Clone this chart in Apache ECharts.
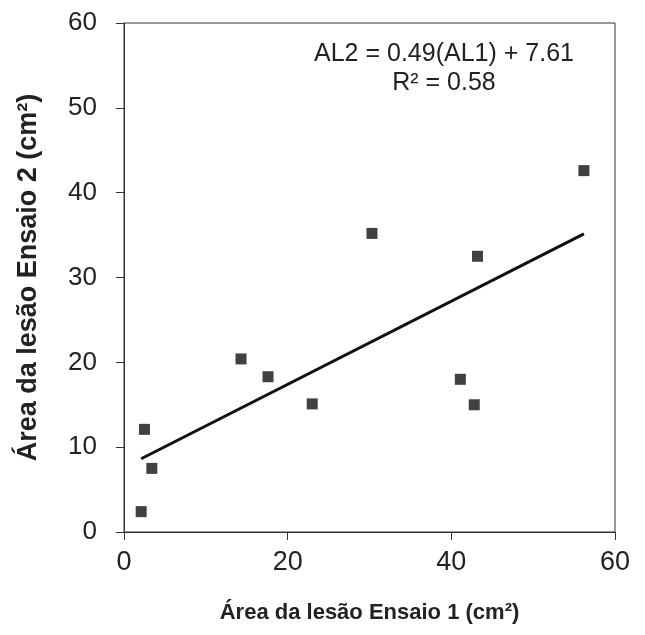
<!DOCTYPE html>
<html>
<head>
<meta charset="utf-8">
<script src="https://cdn.jsdelivr.net/npm/echarts@6/dist/echarts.min.js"></script>
<style>
  html, body { margin: 0; padding: 0; background: #fff; }
  #chart { width: 645px; height: 635px; }
</style>
</head>
<body>
<div id="chart"></div>
<script>
// lesion area, trial 1 (x) vs trial 2 (y)
var areaEnsaio1 = [2.1, 2.5, 3.4, 14.3, 17.6, 23.0, 30.3, 41.1, 42.8, 43.2, 56.2];
var areaEnsaio2 = [2.4, 12.1, 7.5, 20.4, 18.3, 15.1, 35.2, 18.0, 15.0, 32.5, 42.6];
var slope = 0.49;
var intercept = 7.61;
var r2 = 0.58;

var points = areaEnsaio1.map(function (x, i) { return [x, areaEnsaio2[i]]; });
var xMin = Math.min.apply(null, areaEnsaio1);
var xMax = Math.max.apply(null, areaEnsaio1);
var trend = [[xMin, slope * xMin + intercept], [xMax, slope * xMax + intercept]];

var chart = echarts.init(document.getElementById('chart'), null, {renderer: 'canvas'});
var font = 'Liberation Sans, Arial, sans-serif';
var option = {
    animation: false,
    backgroundColor: '#fff',
    grid: {left: 124, right: 30, top: 23, bottom: 103, show: true,
        borderColor: '#333', borderWidth: 1},
    xAxis: {
        type: 'value', min: 0, max: 60, interval: 20,
        name: 'Área da lesão Ensaio 1 (cm²)',
        nameLocation: 'middle', nameGap: 70,
        nameTextStyle: {fontFamily: font, fontSize: 22, fontWeight: 'bold', color: '#222'},
        axisLine: {lineStyle: {color: '#333', width: 1}},
        axisTick: {show: true, length: 8, lineStyle: {color: '#333'}},
        axisLabel: {fontFamily: font, fontSize: 27, color: '#222', margin: 17},
        splitLine: {show: false}
    },
    yAxis: {
        type: 'value', min: 0, max: 60, interval: 10,
        name: 'Área da lesão Ensaio 2 (cm²)',
        nameLocation: 'middle', nameGap: 82,
        nameTextStyle: {fontFamily: font, fontSize: 27, fontWeight: 'bold', color: '#222'},
        axisLine: {lineStyle: {color: '#333', width: 1}},
        axisTick: {show: true, length: 8, lineStyle: {color: '#333'}},
        axisLabel: {fontFamily: font, fontSize: 26, color: '#222', margin: 27},
        splitLine: {show: false}
    },
    graphic: [
        {type: 'text', x: 444, y: 42,
            style: {text: 'AL2 = 0.49(AL1) + 7.61', textAlign: 'center',
                fontFamily: font, fontSize: 25, fill: '#222'}},
        {type: 'text', x: 444, y: 71,
            style: {text: 'R² = ' + r2.toFixed(2), textAlign: 'center',
                fontFamily: font, fontSize: 25, fill: '#222'}}
    ],
    series: [
        {
            type: 'scatter', data: points, symbol: 'rect', symbolSize: 11,
            itemStyle: {color: '#111'}, z: 3
        },
        {
            type: 'line', data: trend, symbol: 'none',
            lineStyle: {color: '#111', width: 3}, z: 2
        }
    ]
};
chart.setOption(option);
</script>
</body>
</html>
